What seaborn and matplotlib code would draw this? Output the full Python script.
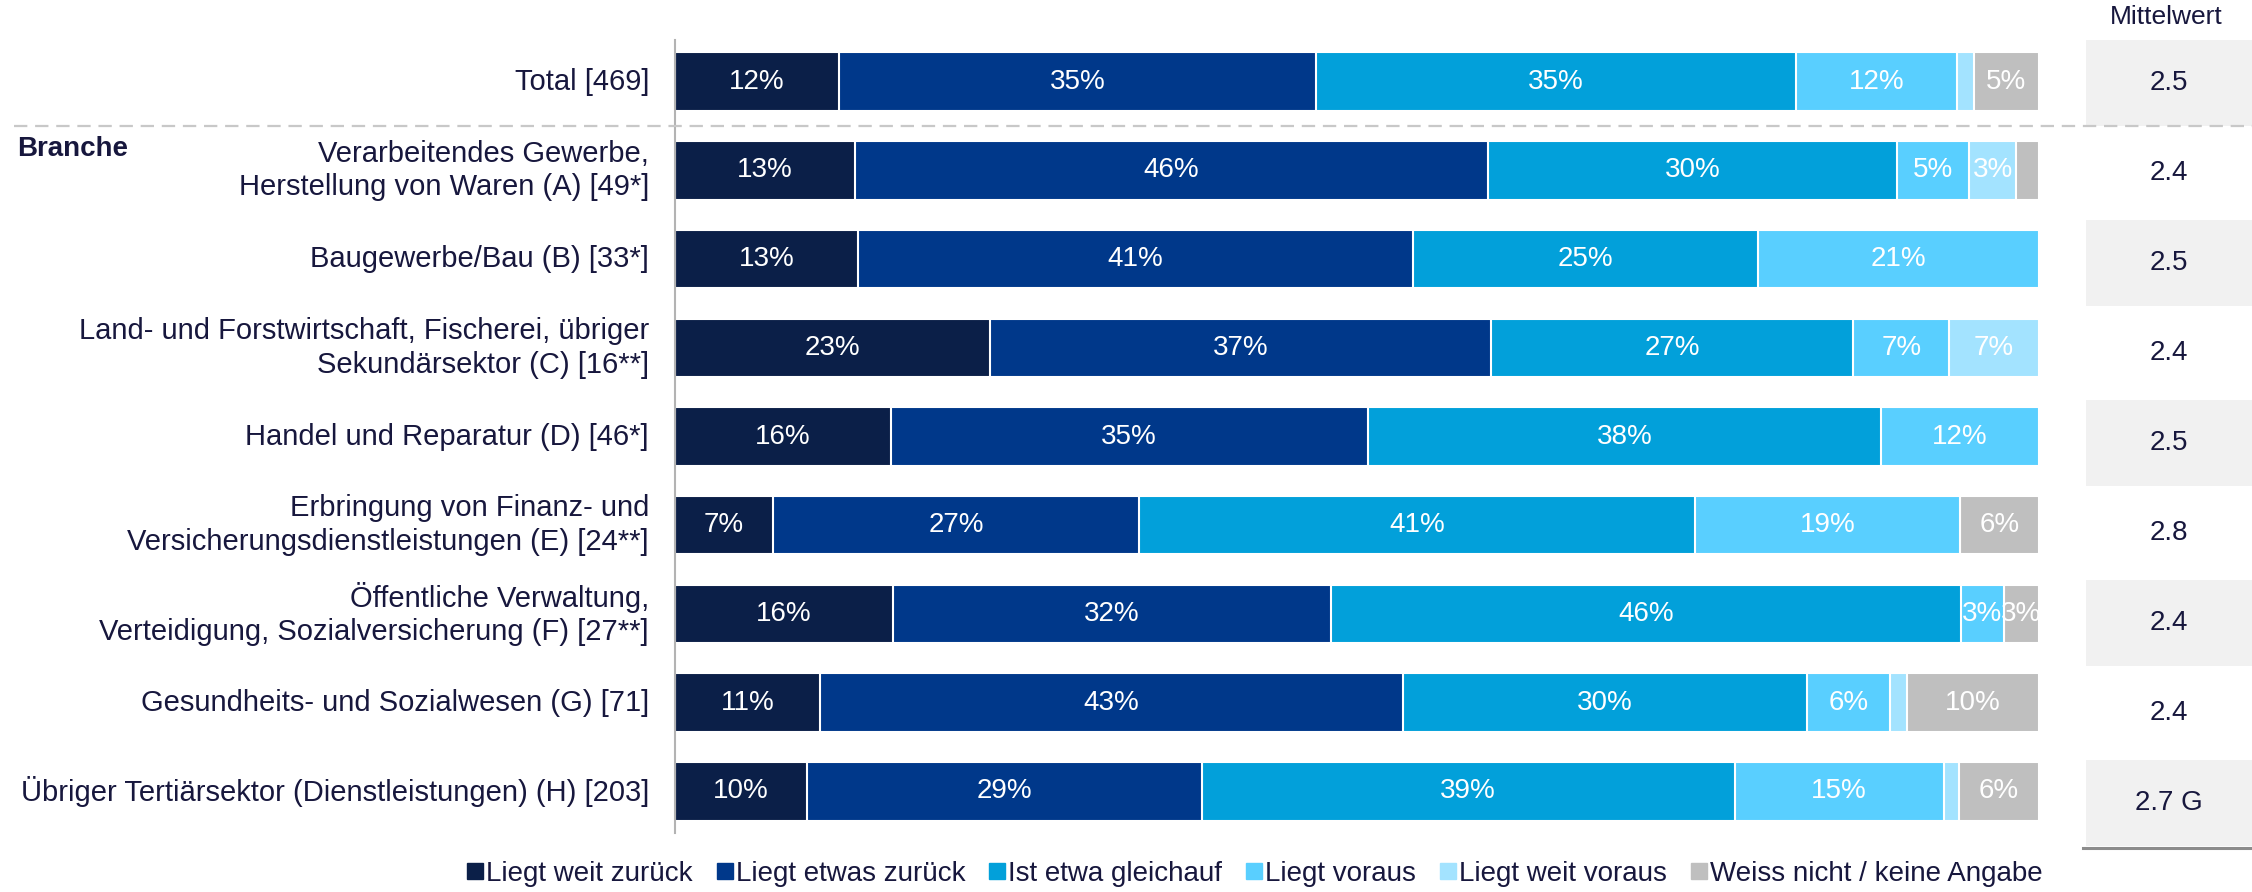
import matplotlib
matplotlib.use("Agg")
import matplotlib.pyplot as plt
from matplotlib.lines import Line2D
import seaborn as sns
import numpy as np
import pandas as pd

categories = [
    "Total [469]",
    "Verarbeitendes Gewerbe,\nHerstellung von Waren (A) [49*]",
    "Baugewerbe/Bau (B) [33*]",
    "Land- und Forstwirtschaft, Fischerei, übriger\nSekundärsektor (C) [16**]",
    "Handel und Reparatur (D) [46*]",
    "Erbringung von Finanz- und\nVersicherungsdienstleistungen (E) [24**]",
    "Öffentliche Verwaltung,\nVerteidigung, Sozialversicherung (F) [27**]",
    "Gesundheits- und Sozialwesen (G) [71]",
    "Übriger Tertiärsektor (Dienstleistungen) (H) [203]",
]
series_names = ["Liegt weit zurück", "Liegt etwas zurück", "Ist etwa gleichauf",
                "Liegt voraus", "Liegt weit voraus", "Weiss nicht / keine Angabe"]
weit_zurueck = [12.0, 13.2, 13.4, 23.1, 15.8, 7.2, 16.0, 10.6, 9.7]
etwas_zurueck = [35.0, 46.4, 40.7, 36.7, 35.0, 26.8, 32.1, 42.8, 28.9]
gleichauf = [35.2, 30.0, 25.3, 26.6, 37.6, 40.8, 46.2, 29.6, 39.1]
voraus = [11.8, 5.3, 20.6, 7.0, 11.6, 19.4, 3.1, 6.1, 15.3]
weit_voraus = [1.2, 3.4, 0.0, 6.6, 0.0, 0.0, 0.0, 1.2, 1.1]
weiss_nicht = [4.8, 1.7, 0.0, 0.0, 0.0, 5.8, 2.6, 9.7, 5.9]
mittelwert = ["2.5", "2.4", "2.5", "2.4", "2.5", "2.8", "2.4", "2.4", "2.7 G"]

colors = ["#0b1f48", "#00388a", "#02a0da", "#59cfff", "#a3e3ff", "#bfbfbf"]
text_dark = "#17173d"

plt.rcParams['font.family'] = ['Liberation Sans', 'DejaVu Sans']

W, H = 2252, 892
fig = plt.figure(figsize=(W / 100, H / 100), dpi=100)

# main bar axes
ax_left, ax_right = 675 / W, 2039 / W
ax_top, ax_bot = 40 / H, 833 / H
ax = fig.add_axes([ax_left, 1 - ax_bot, ax_right - ax_left, ax_bot - ax_top])

series = [weit_zurueck, etwas_zurueck, gleichauf, voraus, weit_voraus, weiss_nicht]
arr = np.array(series)
cum = np.cumsum(arr, axis=0)
df = pd.DataFrame({"cat": categories})
for i in range(len(series) - 1, -1, -1):
    df["v"] = cum[i]
    sns.barplot(data=df, x="v", y="cat", order=categories, orient="h",
                color=colors[i], saturation=1, width=0.66,
                edgecolor="white", linewidth=1.5, ax=ax, errorbar=None)

# segment labels
for i in range(len(series)):
    for r in range(len(categories)):
        v = arr[i, r]
        if v >= 2.5:
            xc = cum[i, r] - v / 2
            ax.text(xc, r, f"{v:.0f}%", ha="center", va="center",
                    color="white", fontsize=20)

ax.set_xlim(0, 100)
ax.set_ylim(8.47, -0.47)
ax.set_xlabel("")
ax.set_ylabel("")
ax.set_xticks([])
ax.set_yticks([])
for s in ["top", "right", "bottom"]:
    ax.spines[s].set_visible(False)
ax.spines["left"].set_color("#b3b3b3")
ax.spines["left"].set_linewidth(1.5)
ax.patch.set_alpha(0)

# category labels
for r, lab in enumerate(categories):
    ax.text(-1.9, r, lab, ha="right", va="center", fontsize=21,
            color=text_dark, linespacing=1.25, clip_on=False)
fig.text(17 / W, 1 - 149 / H, "Branche", ha="left", va="center",
         fontsize=20, fontweight="bold", color=text_dark)

# Mittelwert column
mx0 = 2086 / W
m_top, m_bot = 38 / H, 848 / H
axm = fig.add_axes([mx0, 1 - m_bot, 1 - mx0, m_bot - m_top])
axm.set_xlim(0, 1)
axm.set_ylim(len(categories) - 0.5, -0.5)
for r, mv in enumerate(mittelwert):
    if r % 2 == 0:
        axm.axhspan(r - 0.48, r + 0.48, color="#f1f1f1", lw=0)
    axm.text(0.5, r, mv, ha="center", va="center", fontsize=20, color=text_dark)
axm.axis("off")
axm.plot([-0.02, 1], [len(categories) - 0.5, len(categories) - 0.5],
         color="#8c8c8c", lw=2.2, clip_on=False)
fig.text(2166 / W, 1 - 17 / H, "Mittelwert", ha="center", va="center",
         fontsize=19, color=text_dark)

# dashed separator
fig.add_artist(Line2D([14 / W, 1], [1 - 126 / H, 1 - 126 / H],
                      color="#c8c8c8", lw=1.6, linestyle=(0, (6, 3.5)),
                      zorder=10))

# legend
handles = [Line2D([], [], marker="s", linestyle="none", markersize=11,
                  markerfacecolor=c, markeredgecolor=c) for c in colors]
fig.legend(handles, series_names, loc="center", bbox_to_anchor=(1254 / W, 1 - 874 / H),
           ncol=6, frameon=False, fontsize=20, handletextpad=0.05,
           columnspacing=0.8, labelcolor=text_dark, handlelength=0.7)

fig.savefig("out.png", dpi=100)
